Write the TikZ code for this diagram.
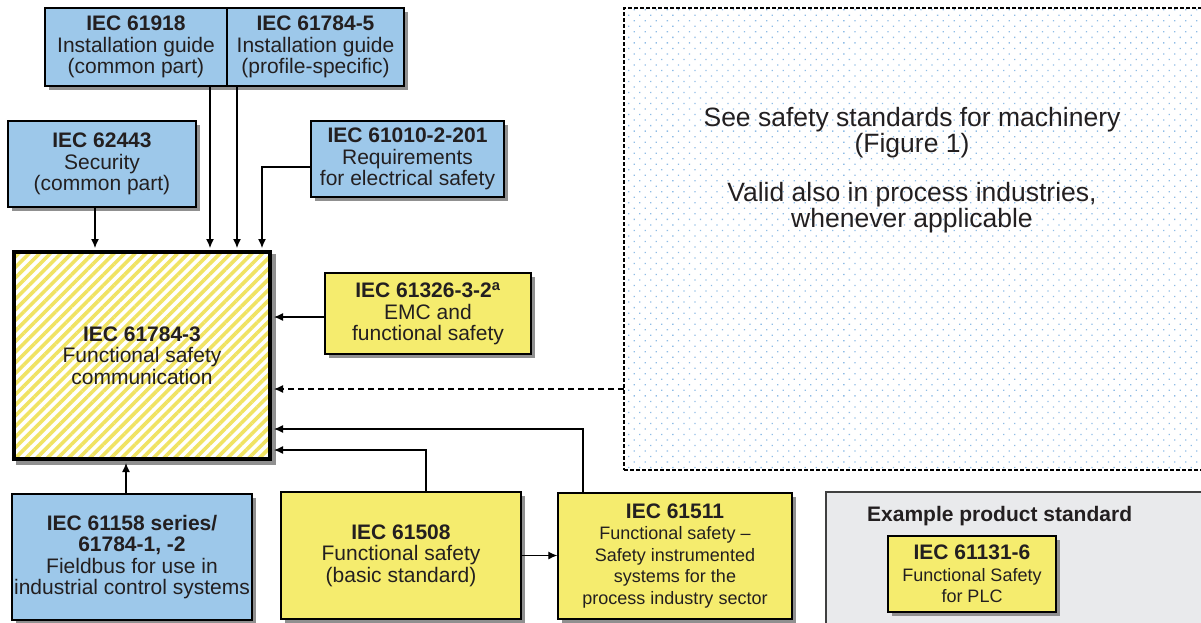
\documentclass[tikz,border=0pt]{standalone}
\usepackage{fontspec}
\setmainfont{Liberation Sans}
\usetikzlibrary{arrows.meta,patterns.meta}
\definecolor{sblue}{HTML}{9DC8EA}
\definecolor{syel}{HTML}{F5EC6E}
\definecolor{hatchy}{HTML}{F0E363}
\definecolor{sgray}{HTML}{E9EAEC}
\definecolor{dotc}{HTML}{8EBCE6}
\definecolor{txt}{HTML}{231F20}
\definecolor{shadc}{HTML}{909090}
\newcommand\fnorm{\fontsize{21}{21.5}\selectfont}
\newcommand\fsmall{\fontsize{18}{21}\selectfont}
\newcommand\fbig{\fontsize{26.5}{23.5}\selectfont}
% shadow rectangle: centre x, centre y, width, height
\newcommand\myshadow[4]{\fill[shadc] ({#1-#3/2+4},{#2-#4/2+4}) rectangle ({#1+#3/2+4},{#2+#4/2+4});}
\tikzset{
  stdbox/.style={draw=black,line width=1.3pt,align=center,inner sep=0pt,text=txt,font=\fnorm},
  bluebox/.style={stdbox,fill=sblue},
  yelbox/.style={stdbox,fill=syel},
  arr/.style={line width=1.2pt,-{Latex[length=9pt,width=8pt]}},
  tomain/.style={shorten >=2pt},
}
\begin{document}
\begin{tikzpicture}[x=1pt,y=-1pt]
\useasboundingbox (0,0) rectangle (1201,622);
% background regions
\node[draw=black,line width=1.1pt,dash pattern=on 4pt off 2pt,
      pattern={Dots[angle=45,distance=7.8pt,radius=0.9pt]},pattern color=dotc,
      minimum width=586pt,minimum height=462pt,inner sep=0pt] (seefig) at (917,239) {};
\node[text=txt,font=\fbig,align=center] (seetext) at (912,170)
  {See safety standards for machinery\\(Figure 1)\\[24pt]Valid also in process industries,\\whenever applicable};
\node[draw=black!75,line width=1.3pt,fill=sgray,minimum width=384pt,minimum height=138pt,inner sep=0pt] (prod) at (1018,561) {};
\node[anchor=base west,text=txt,font=\fnorm\bfseries,inner sep=0pt] (prodlabel) at (867,521) {Example product standard};
% shadows
\myshadow{136}{47}{182}{78}
\myshadow{315.5}{47}{177}{78}
\myshadow{102}{164}{188}{86}
\myshadow{407.5}{159}{193}{76}
\myshadow{142}{355.5}{260}{211}
\myshadow{428}{313.5}{206}{81}
\myshadow{132}{557}{240}{126}
\myshadow{401}{555.5}{240}{127}
\myshadow{675}{556}{234}{126}
\myshadow{972}{574}{168}{76}
% boxes
\node[bluebox,minimum width=182pt,minimum height=78pt] (i61918) at (136,47)
  {\textbf{IEC 61918}\\Installation guide\\(common part)};
\node[bluebox,minimum width=177pt,minimum height=78pt] (i617845) at (315.5,47)
  {\textbf{IEC 61784-5}\\Installation guide\\(profile-specific)};
\node[bluebox,minimum width=188pt,minimum height=86pt] (i62443) at (102,164)
  {\textbf{IEC 62443}\\Security\\(common part)};
\node[bluebox,minimum width=193pt,minimum height=76pt] (i61010) at (407.5,159)
  {\textbf{IEC 61010-2-201}\\Requirements\\for electrical safety};
\node[preaction={fill=white},pattern={Lines[angle=45,distance=7.5pt,line width=3.6pt]},pattern color=hatchy,
      draw=black,line width=4pt,minimum width=256pt,minimum height=207pt,align=center,inner sep=0pt,text=txt,font=\fnorm] (main) at (142,355.5)
  {\textbf{IEC 61784-3}\\Functional safety\\communication};
\node[yelbox,minimum width=206pt,minimum height=81pt] (i61326) at (428,313.5)
  {\textbf{IEC 61326-3-2\textsuperscript{a}}\\EMC and\\functional safety};
\node[bluebox,minimum width=240pt,minimum height=126pt] (i61158) at (132,557)
  {\textbf{IEC 61158 series/}\\\textbf{61784-1, -2}\\Fieldbus for use in\\industrial control systems};
\node[yelbox,minimum width=240pt,minimum height=127pt] (i61508) at (401,555.5)
  {\textbf{IEC 61508}\\Functional safety\\(basic standard)};
\node[yelbox,minimum width=234pt,minimum height=126pt] (i61511) at (675,556)
  {\textbf{IEC 61511}\\\fsmall Functional safety --\\\fsmall Safety instrumented\\\fsmall systems for the\\\fsmall process industry sector};
\node[yelbox,minimum width=168pt,minimum height=76pt] (i61131) at (972,574)
  {\textbf{IEC 61131-6}\\\fsmall Functional Safety\\\fsmall for PLC};
% connectors
\coordinate (a1) at (95,0);
\coordinate (a2) at (210,0);
\coordinate (a3) at (237,0);
\coordinate (a4) at (262,167);
\coordinate (b1) at (311,167);
\draw[arr,tomain] (a1 |- i62443.south) -- (a1 |- main.north);
\draw[arr,tomain] (a2 |- i61918.south) -- (a2 |- main.north);
\draw[arr,tomain] (a3 |- i617845.south) -- (a3 |- main.north);
\draw[arr,tomain] (b1) -- (a4) -- (a4 |- main.north);
\coordinate (c1) at (325,317);
\draw[arr,tomain] (c1) -- (c1 -| main.east);
\coordinate (d1) at (624,389);
\draw[arr,tomain,dash pattern=on 6pt off 4pt] (d1) -- (d1 -| main.east);
\coordinate (e2) at (583,429);
\draw[arr,tomain] (e2 |- i61511.north) -- (e2) -- (e2 -| main.east);
\coordinate (f2) at (426,450);
\draw[arr,tomain] (f2 |- i61508.north) -- (f2) -- (f2 -| main.east);
\coordinate (g1) at (126,0);
\draw[arr,tomain] (g1 |- i61158.north) -- (g1 |- main.south);
\draw[arr] (i61508.east) -- (i61508.east -| i61511.west);
\end{tikzpicture}
\end{document}
